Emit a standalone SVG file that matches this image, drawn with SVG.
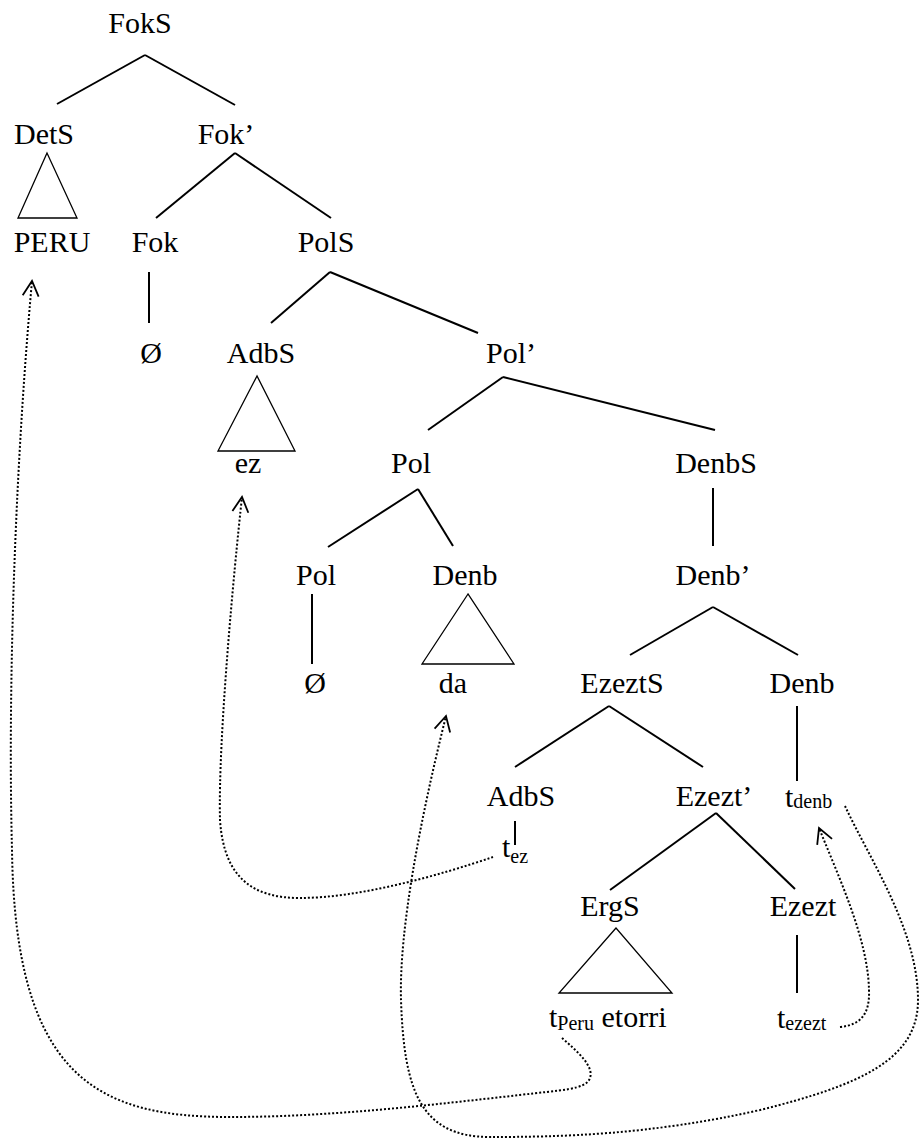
<svg xmlns="http://www.w3.org/2000/svg" width="920" height="1138" viewBox="0 0 920 1138">
<defs>
<style>
text{font-family:"Liberation Serif","Times New Roman",serif;font-size:30px;fill:#000}
.c{text-anchor:middle}
.sub{font-size:20px}
.e{stroke:#000;stroke-width:2;fill:none}
.tri{stroke:#000;stroke-width:1.3;fill:none}
.mv{stroke:#000;stroke-width:2;fill:none;stroke-dasharray:2 2}
</style>
<marker id="ah" markerUnits="userSpaceOnUse" orient="auto" refX="0" refY="0" markerWidth="20" markerHeight="20" viewBox="-18 -10 20 20" overflow="visible">
<path d="M-15,-8 L0,0 L-15,8" fill="none" stroke="#000" stroke-width="1.8"/>
</marker>
</defs>
<rect width="920" height="1138" fill="#fff"/>

<g id="edges">
<line class="e" x1="145" y1="55" x2="57" y2="104"/>
<line class="e" x1="145" y1="55" x2="235" y2="105"/>
<polygon class="tri" points="47,153 18,218 77,218"/>
<line class="e" x1="235" y1="153" x2="156" y2="218"/>
<line class="e" x1="235" y1="153" x2="331" y2="218"/>
<line class="e" x1="149" y1="272" x2="149" y2="323"/>
<line class="e" x1="330" y1="272" x2="271" y2="323"/>
<line class="e" x1="330" y1="272" x2="478" y2="333"/>
<polygon class="tri" points="257,376 218,451 295,451"/>
<line class="e" x1="503" y1="377" x2="428" y2="430"/>
<line class="e" x1="503" y1="377" x2="715" y2="430"/>
<line class="e" x1="418" y1="489" x2="328" y2="547"/>
<line class="e" x1="418" y1="489" x2="453" y2="546"/>
<line class="e" x1="713" y1="488" x2="713" y2="546"/>
<line class="e" x1="312" y1="594" x2="312" y2="664"/>
<polygon class="tri" points="468,594 422,664 514,664"/>
<line class="e" x1="713" y1="607" x2="630" y2="655"/>
<line class="e" x1="713" y1="607" x2="798" y2="655"/>
<line class="e" x1="609" y1="706" x2="515" y2="767"/>
<line class="e" x1="609" y1="706" x2="703" y2="767"/>
<line class="e" x1="797" y1="706" x2="797" y2="781"/>
<line class="e" x1="515" y1="821" x2="515" y2="845"/>
<line class="e" x1="716" y1="813" x2="610" y2="890"/>
<line class="e" x1="716" y1="813" x2="795" y2="889"/>
<polygon class="tri" points="616,928 559,993 672,993"/>
<line class="e" x1="797" y1="935" x2="797" y2="993"/>
</g>

<g id="movements">
<path class="mv" marker-end="url(#ah)" d="M493,857 C440,875 360,898 300,898 C255,898 224,880 220,820 C218,740 234,570 242,497"/>
<path class="mv" marker-end="url(#ah)" d="M562,1038 C578,1052 594,1066 590,1078 C586,1090 560,1090 520,1095 C430,1105 330,1117 230,1117 C100,1117 15,1080 12,850 C8,700 14,480 32,281"/>
<path class="mv" marker-end="url(#ah)" d="M845,806 C870,860 918,930 918,1000 C918,1060 860,1085 760,1110 C650,1135 560,1137 490,1137 C420,1137 404,1090 401,1000 C399,930 420,820 446,716"/>
<path class="mv" marker-end="url(#ah)" d="M840,1027 C860,1025 870,1015 869,990 C868,940 840,880 819,828"/>
</g>

<g id="n-foks"><text class="c" x="140" y="33">FokS</text></g>
<g id="n-dets"><text class="c" x="44" y="144">DetS</text></g>
<g id="n-fokbar"><text class="c" x="226" y="144">Fok’</text></g>
<g id="n-peru"><text class="c" x="52" y="252">PERU</text></g>
<g id="n-fok"><text class="c" x="155" y="252">Fok</text></g>
<g id="n-pols"><text class="c" x="326" y="252">PolS</text></g>
<g id="n-null1"><text class="c" x="151" y="363">Ø</text></g>
<g id="n-adbs1"><text class="c" x="261" y="363">AdbS</text></g>
<g id="n-polbar"><text class="c" x="511" y="363">Pol’</text></g>
<g id="n-ez"><text class="c" x="248" y="473">ez</text></g>
<g id="n-pol1"><text class="c" x="411" y="473">Pol</text></g>
<g id="n-denbs"><text class="c" x="716" y="473">DenbS</text></g>
<g id="n-pol2"><text class="c" x="316" y="585">Pol</text></g>
<g id="n-denb1"><text class="c" x="465" y="585">Denb</text></g>
<g id="n-denbbar"><text class="c" x="713" y="585">Denb’</text></g>
<g id="n-null2"><text class="c" x="315" y="693">Ø</text></g>
<g id="n-da"><text class="c" x="453" y="693">da</text></g>
<g id="n-ezezts"><text class="c" x="622" y="693">EzeztS</text></g>
<g id="n-denb2"><text class="c" x="802" y="693">Denb</text></g>
<g id="n-adbs2"><text class="c" x="521" y="806">AdbS</text></g>
<g id="n-ezeztbar"><text class="c" x="714" y="806">Ezezt’</text></g>
<g id="n-tdenb"><text x="785" y="807">t<tspan class="sub" dy="1">denb</tspan></text></g>
<g id="n-tez"><text x="502" y="857">t<tspan class="sub" dy="6">ez</tspan></text></g>
<g id="n-ergs"><text class="c" x="610" y="916">ErgS</text></g>
<g id="n-ezezt"><text class="c" x="803" y="916">Ezezt</text></g>
<g id="n-tperu"><text x="549" y="1027">t<tspan class="sub" dy="3">Peru</tspan><tspan dy="-3"> etorri</tspan></text></g>
<g id="n-tezezt"><text x="777" y="1028">t<tspan class="sub" dy="2">ezezt</tspan></text></g>
</svg>
